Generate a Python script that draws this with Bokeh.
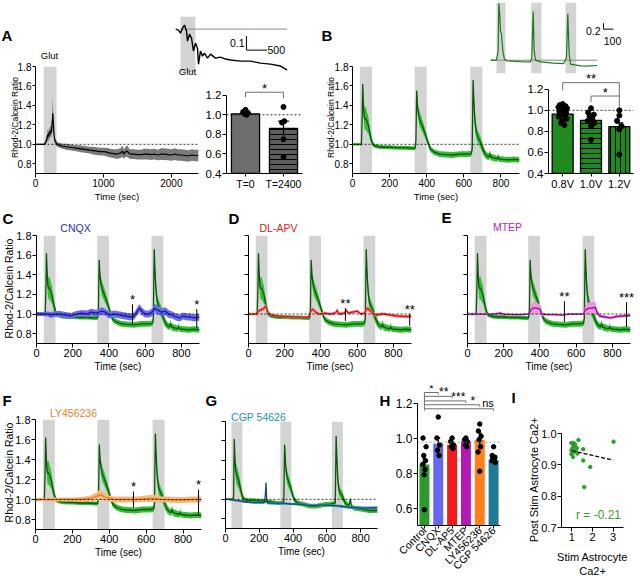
import math
from bokeh.plotting import figure
from bokeh.models import (Range1d, FactorRange, FixedTicker, PrintfTickFormatter,
                          Label, Span, BoxAnnotation)
from bokeh.layouts import column
from bokeh.embed import file_html
from bokeh.resources import INLINE

FONT = "Liberation Sans"
GRAY = "#d3d3d3"

# ======================= DATA =======================
# ---- Panel A: glutamate response (s) ----
a_time = [0, 50, 100, 130, 150, 170, 180, 190, 200, 210,
          220, 230, 240, 250, 255, 260, 265, 270, 280, 290,
          300, 320, 350, 400, 450, 500, 550, 600, 650, 700,
          750, 800, 850, 900, 950, 1000, 1050, 1100, 1150, 1200,
          1250, 1280, 1300, 1320, 1350, 1380, 1400, 1450, 1500, 1550,
          1600, 1650, 1700, 1750, 1800, 1850, 1900, 1950, 2000, 2050,
          2100, 2150, 2200, 2250, 2300, 2350, 2400]
a_mean = [1.0, 1.0, 1.0, 1.0, 1.02, 1.06, 1.1, 1.08, 1.12, 1.1,
          1.14, 1.12, 1.18, 1.25, 1.32, 1.25, 1.22, 1.12, 1.06, 1.03,
          1.02, 1.0, 0.99, 0.98, 0.975, 0.97, 0.965, 0.96, 0.955, 0.95,
          0.945, 0.94, 0.935, 0.93, 0.925, 0.925, 0.92, 0.91, 0.905, 0.9,
          0.91, 0.93, 0.9, 0.92, 0.93, 0.905, 0.9, 0.9, 0.895, 0.895,
          0.9, 0.9, 0.895, 0.9, 0.89, 0.9, 0.9, 0.895, 0.89, 0.9,
          0.89, 0.89, 0.885, 0.88, 0.89, 0.885, 0.885]
a_sem = [0.005, 0.005, 0.005, 0.01, 0.02, 0.04, 0.06, 0.05, 0.06, 0.05,
         0.06, 0.05, 0.08, 0.12, 0.18, 0.1, 0.08, 0.06, 0.04, 0.03,
         0.03, 0.025, 0.025, 0.025, 0.03, 0.03, 0.03, 0.03, 0.035, 0.035,
         0.035, 0.035, 0.04, 0.04, 0.04, 0.04, 0.045, 0.045, 0.045, 0.05,
         0.05, 0.06, 0.05, 0.05, 0.06, 0.05, 0.05, 0.05, 0.05, 0.05,
         0.055, 0.055, 0.055, 0.055, 0.055, 0.06, 0.06, 0.06, 0.06, 0.06,
         0.06, 0.06, 0.06, 0.06, 0.06, 0.06, 0.06]
a_stim_start = [120]
a_stim_end = [310]
a_xticks = [0, 1000, 2000]

# ---- Panel A inset: single cell ----
ai_time = [0, 72, 120, 169, 217, 265, 289, 337, 386, 434,
           482, 530, 554, 602, 651, 699, 771, 843, 964, 1084,
           1205, 1325, 1566, 1807, 1928, 2048, 2289, 2530, 2699]
ai_ratio = [1.0, 0.993, 0.971, 1.007, 1.029, 0.986, 0.914, 0.964, 0.936, 0.843,
            0.9, 0.864, 0.75, 0.843, 0.807, 0.829, 0.793, 0.821, 0.793, 0.8,
            0.786, 0.779, 0.771, 0.771, 0.764, 0.757, 0.75, 0.736, 0.707]
ai_stim_start = [120]
ai_stim_end = [480]
ai_base_t = [120, 2700]
ai_base_v = [1.0, 1.0]
ai_scale_t = [1710, 1710, 2210]
ai_scale_v = [0.95, 0.85, 0.85]

# ---- Control trace (B, C, D, E, F) ----
ctrl_t = [0, 20, 40, 48, 52, 55, 58, 62, 66, 70,
          75, 80, 85, 90, 95, 100, 105, 110, 120, 140,
          170, 200, 240, 280, 320, 338, 342, 346, 350, 355,
          360, 370, 380, 390, 400, 410, 420, 440, 470, 500,
          540, 580, 620, 640, 645, 650, 654, 658, 662, 668,
          675, 682, 690, 697, 705, 715, 725, 735, 740, 745,
          760, 780, 785, 790, 810, 840, 870, 900]
ctrl_mean = [1.00, 1.00, 1.00, 1.00, 1.25, 1.62, 1.45, 1.30, 1.26, 1.27,
             1.25, 1.22, 1.20, 1.15, 1.10, 1.06, 1.03, 1.00, 0.985, 0.975,
             0.97, 0.97, 0.965, 0.965, 0.96, 0.96, 1.05, 1.55, 1.40, 1.32,
             1.27, 1.22, 1.17, 1.12, 1.06, 1.00, 0.95, 0.92, 0.90, 0.895,
             0.89, 0.90, 0.90, 0.905, 0.95, 1.66, 1.45, 1.30, 1.20, 1.12,
             1.08, 1.05, 1.02, 0.98, 0.94, 0.90, 0.88, 0.87, 0.90, 0.87,
             0.86, 0.85, 0.87, 0.85, 0.845, 0.84, 0.845, 0.84]
ctrl_sem = [0.012, 0.012, 0.012, 0.015, 0.03, 0.03, 0.07, 0.09, 0.11, 0.12,
            0.11, 0.10, 0.09, 0.07, 0.06, 0.05, 0.04, 0.025, 0.02, 0.02,
            0.02, 0.02, 0.02, 0.02, 0.02, 0.02, 0.03, 0.03, 0.06, 0.07,
            0.08, 0.07, 0.06, 0.05, 0.04, 0.035, 0.03, 0.03, 0.03, 0.03,
            0.03, 0.03, 0.03, 0.03, 0.04, 0.03, 0.07, 0.08, 0.08, 0.07,
            0.06, 0.06, 0.06, 0.05, 0.05, 0.04, 0.035, 0.035, 0.04, 0.035,
            0.035, 0.03, 0.035, 0.03, 0.03, 0.03, 0.03, 0.03]
stim_start = [40, 335, 635]
stim_end = [105, 400, 700]
t_xticks = [0, 200, 400, 600, 800]
ratio_yticks = [0.8, 1.0, 1.2, 1.4, 1.6, 1.8]

# ---- Panel B inset: single cell at 3 voltages ----
bi_time = [0, 60, 77, 83, 93, 100, 110, 123, 140, 167,
           300, 400, 413, 427, 437, 450, 500, 633, 733, 760,
           773, 787, 800, 900, 967, 1067]
bi_ratio = [1.0, 1.0, 1.31, 2.92, 2.53, 1.98, 1.87, 1.31, 1.03, 0.977,
            0.953, 0.943, 1.087, 2.643, 1.31, 1.0, 0.943, 0.9, 0.887, 1.087,
            2.567, 1.2, 0.867, 0.81, 0.8, 0.82]
bi_stim_start = [60, 407, 750]
bi_stim_end = [150, 510, 857]
bi_base_t = [0, 1070]
bi_base_v = [1.0, 1.0]
bi_scale_t = [1130, 1130, 1230]
bi_scale_v = [2.25, 2.05, 2.05]

# ---- Panel B bars ----
b_cats = ["0.8V", "1.0V", "1.2V"]
b_mean = [0.965, 0.905, 0.845]
b_sem = [0.02, 0.03, 0.035]
b_dots_08 = [1.06, 1.05, 1.04, 1.03, 1.02, 1.01, 1.00, 0.99, 0.98, 0.97, 0.96, 0.95, 0.94, 0.92, 0.90, 0.88, 0.86]
b_offs_08 = [0.0, -0.1, 0.1, -0.15, 0.15, -0.05, 0.05, -0.12, 0.12, 0.0, -0.08, 0.08, -0.14, 0.14, 0.0, -0.06, 0.06]
b_dots_10 = [1.02, 0.98, 0.96, 0.94, 0.92, 0.90, 0.88, 0.85, 0.72]
b_offs_10 = [0.0, -0.1, 0.1, -0.05, 0.05, -0.12, 0.12, 0.0, 0.0]
b_dots_12 = [1.00, 0.95, 0.90, 0.85, 0.82, 0.58]
b_offs_12 = [0.0, 0.0, -0.08, 0.08, 0.0, 0.0]
b_br1_x = [0.5, 0.5, 2.5, 2.5]
b_br1_y = [1.19, 1.263, 1.263, 1.03]
b_br2_x = [1.5, 1.5, 2.5]
b_br2_y = [1.08, 1.136, 1.136]

# ---- Panel A bars ----
a_cats = ["T=0", "T=2400"]
a_bmean = [1.01, 0.86]
a_bsem = [0.012, 0.075]
a_dots_t0 = [1.05, 1.03, 1.02, 1.01, 1.00]
a_offs_t0 = [0.0, -0.06, 0.06, -0.03, 0.03]
a_dots_t2400 = [1.08, 0.935, 0.92, 0.75, 0.57]
a_offs_t2400 = [0.0, 0.02, -0.04, 0.0, 0.0]
a_br_x = [0.5, 0.5, 1.5, 1.5]
a_br_y = [1.18, 1.23, 1.23, 1.17]
bar_yticks = [0.4, 0.6, 0.8, 1.0, 1.2]

# ---- Drug traces ----
cnqx_t = [0, 30, 60, 80, 100, 130, 160, 190, 220, 250,
          280, 300, 330, 360, 380, 400, 430, 460, 490, 520,
          540, 560, 570, 580, 600, 620, 640, 650, 670, 690,
          710, 730, 750, 770, 790, 810, 830, 850, 870, 900]
cnqx_mean = [1.00, 1.00, 1.00, 0.99, 1.00, 1.00, 0.99, 0.98, 1.00, 1.01,
             1.00, 1.02, 1.01, 1.03, 1.02, 0.99, 1.00, 0.99, 0.98, 0.97,
             0.98, 1.04, 1.06, 1.03, 1.00, 1.00, 1.02, 1.06, 1.04, 1.02,
             1.03, 1.00, 0.99, 0.97, 0.96, 0.98, 0.97, 0.97, 0.96, 0.97]
cnqx_sem = [0.02, 0.02, 0.025, 0.03, 0.03, 0.03, 0.03, 0.03, 0.03, 0.03,
            0.035, 0.035, 0.035, 0.04, 0.035, 0.035, 0.035, 0.035, 0.035, 0.035,
            0.035, 0.04, 0.04, 0.04, 0.035, 0.035, 0.04, 0.045, 0.045, 0.04,
            0.04, 0.04, 0.035, 0.035, 0.035, 0.035, 0.035, 0.035, 0.035, 0.035]

apv_t = [0, 40, 55, 65, 80, 95, 105, 115, 140, 200,
         260, 300, 330, 345, 355, 370, 390, 420, 450, 480,
         490, 500, 530, 540, 550, 600, 620, 640, 655, 670,
         690, 710, 730, 750, 780, 820, 860, 900]
apv_mean = [1.00, 1.00, 1.03, 1.04, 1.05, 1.08, 1.03, 1.00, 0.985, 0.975,
            0.97, 0.97, 0.97, 1.03, 1.05, 1.02, 1.00, 1.01, 1.00, 1.01,
            1.04, 1.00, 1.01, 1.04, 1.01, 1.03, 1.00, 1.01, 1.06, 1.04,
            1.00, 0.99, 1.00, 1.00, 0.99, 0.98, 0.975, 0.975]
apv_sem = [0.01, 0.01, 0.02, 0.02, 0.02, 0.025, 0.02, 0.015, 0.01, 0.01,
           0.01, 0.01, 0.01, 0.02, 0.02, 0.02, 0.015, 0.015, 0.015, 0.015,
           0.02, 0.015, 0.015, 0.02, 0.015, 0.015, 0.015, 0.015, 0.025, 0.025,
           0.02, 0.015, 0.015, 0.015, 0.015, 0.015, 0.015, 0.015]

mtep_t = [0, 50, 100, 150, 180, 200, 250, 300, 340, 350,
          360, 380, 400, 410, 440, 480, 520, 560, 600, 640,
          650, 670, 690, 705, 715, 730, 760, 790, 820, 860,
          900]
mtep_mean = [1.00, 1.00, 1.00, 1.00, 1.01, 1.00, 0.995, 0.995, 1.00, 1.04,
             1.06, 1.06, 1.05, 1.00, 0.995, 0.995, 0.99, 1.00, 1.00, 1.00,
             1.04, 1.06, 1.06, 1.07, 1.02, 0.98, 0.97, 0.96, 0.975, 0.98,
             0.985]
mtep_sem = [0.01, 0.01, 0.01, 0.01, 0.015, 0.01, 0.01, 0.01, 0.01, 0.05,
            0.06, 0.06, 0.05, 0.02, 0.01, 0.01, 0.01, 0.01, 0.01, 0.01,
            0.05, 0.06, 0.06, 0.06, 0.03, 0.02, 0.015, 0.015, 0.015, 0.015,
            0.015]

ly_t = [0, 50, 100, 150, 200, 250, 300, 330, 350, 370,
        400, 430, 470, 500, 540, 580, 620, 650, 680, 720,
        760, 800, 850, 900]
ly_mean = [1.00, 1.00, 1.00, 1.00, 1.00, 1.00, 1.01, 1.03, 1.05, 1.03,
           1.01, 1.00, 1.00, 1.00, 1.00, 1.005, 1.01, 1.01, 1.00, 1.00,
           0.995, 0.995, 1.00, 1.00]
ly_sem = [0.015, 0.015, 0.02, 0.02, 0.02, 0.025, 0.03, 0.04, 0.05, 0.04,
          0.03, 0.03, 0.03, 0.03, 0.03, 0.03, 0.035, 0.035, 0.03, 0.03,
          0.03, 0.03, 0.03, 0.03]

gctl_t = [0, 20, 40, 48, 52, 56, 60, 66, 72, 80,
          90, 100, 110, 130, 160, 200, 240, 280, 320, 345,
          350, 356, 362, 370, 380, 390, 400, 410, 430, 460,
          500, 540, 580, 620, 650, 655, 660, 665, 672, 680,
          690, 700, 710, 730, 740, 745, 760, 800, 850, 900]
gctl_mean = [1.00, 1.00, 1.00, 1.02, 1.62, 1.40, 1.30, 1.25, 1.22, 1.18,
             1.10, 1.03, 1.00, 0.99, 0.99, 0.985, 0.98, 0.97, 0.96, 0.97,
             1.56, 1.35, 1.25, 1.20, 1.15, 1.10, 1.03, 0.99, 0.96, 0.95,
             0.93, 0.93, 0.945, 0.95, 0.96, 1.65, 1.40, 1.20, 1.10, 1.06,
             1.04, 1.00, 0.96, 0.93, 1.00, 0.93, 0.91, 0.90, 0.885, 0.885]
gctl_sem = [0.01, 0.01, 0.01, 0.02, 0.03, 0.07, 0.09, 0.10, 0.09, 0.08,
            0.06, 0.04, 0.025, 0.02, 0.02, 0.02, 0.02, 0.02, 0.02, 0.02,
            0.03, 0.06, 0.07, 0.07, 0.06, 0.05, 0.04, 0.03, 0.025, 0.025,
            0.025, 0.025, 0.025, 0.025, 0.025, 0.03, 0.07, 0.07, 0.06, 0.05,
            0.05, 0.04, 0.035, 0.03, 0.03, 0.025, 0.025, 0.025, 0.025, 0.025]
g_stim_start = [35, 325, 630]
g_stim_end = [100, 390, 695]

cgp_t = [0, 20, 50, 80, 110, 140, 170, 200, 230, 236,
         240, 244, 250, 280, 320, 360, 400, 440, 480, 520,
         560, 600, 640, 680, 720, 760, 800, 850, 900]
cgp_mean = [1.00, 1.00, 0.99, 0.985, 0.975, 0.97, 0.965, 0.965, 0.965, 1.05,
            1.17, 1.00, 0.96, 0.96, 0.96, 0.955, 0.95, 0.95, 0.94, 0.935,
            0.94, 0.94, 0.935, 0.93, 0.92, 0.915, 0.91, 0.91, 0.915]
cgp_sem = [0.005, 0.005, 0.008, 0.01, 0.01, 0.01, 0.01, 0.01, 0.01, 0.02,
           0.02, 0.02, 0.012, 0.012, 0.012, 0.012, 0.012, 0.012, 0.012, 0.012,
           0.012, 0.012, 0.012, 0.015, 0.015, 0.015, 0.015, 0.015, 0.015]

# significance markers (time, lower, upper, label)
c_sig_t = [530, 885]; c_sig_lo = [0.90, 0.86]; c_sig_hi = [1.10, 1.05]; c_sig_txt = ["*", "*"]
d_sig_t = [535, 890]; d_sig_lo = [0.93, 0.88]; d_sig_hi = [1.06, 1.00]; d_sig_txt = ["**", "**"]
e_sig_t = [535, 878]; e_sig_lo = [0.92, 0.87]; e_sig_hi = [1.13, 1.12]; e_sig_txt = ["**", "***"]
f_sig_t = [531, 884]; f_sig_lo = [0.92, 0.85]; f_sig_hi = [1.08, 1.10]; f_sig_txt = ["*", "*"]

# ---- Panel H ----
h_cats = ["Control", "CNQX", "DL-AP5", "MTEP", "LY456236", "CGP 54626"]
h_mean = [0.848, 0.967, 0.962, 0.982, 0.99, 0.873]
h_sem = [0.035, 0.033, 0.015, 0.015, 0.038, 0.012]
h_dots_ctrl = [1.00, 0.95, 0.90, 0.87, 0.85, 0.82, 0.79, 0.59]
h_dots_cnqx = [1.12, 1.00, 0.96, 0.93, 0.90]
h_dots_apv = [1.00, 0.98, 0.96, 0.95, 0.94]
h_dots_mtep = [1.00, 0.99, 0.98, 0.96, 0.95]
h_dots_ly = [1.08, 1.04, 1.01, 0.99, 0.95, 0.92, 0.81]
h_dots_cgp = [0.95, 0.90, 0.89, 0.885, 0.88, 0.87, 0.86]
h_offs_ctrl = [-0.1, 0.12, -0.05, 0.08, -0.12, 0.04, -0.02, 0.0]
h_offs_cnqx = [0.0, -0.1, 0.1, -0.05, 0.06]
h_offs_apv = [0.0, -0.1, 0.1, -0.05, 0.06]
h_offs_mtep = [0.0, -0.1, 0.1, -0.05, 0.06]
h_offs_ly = [0.0, -0.1, 0.1, -0.05, 0.06, -0.12, 0.0]
h_offs_cgp = [0.0, -0.1, 0.1, -0.05, 0.06, -0.12, 0.12]
h_ref = 0.976
h_br_level = [1.26, 1.238, 1.212, 1.19, 1.167]
h_br_end = [1.5, 2.5, 3.5, 4.5, 5.5]
h_br_lab = ["*", "**", "***", "*", "ns"]
h_br_lab_x = [1.0, 1.9, 2.95, 4.0, 5.1]
h_yticks = [0.6, 0.8, 1.0, 1.2]

# ---- Panel I ----
i_stim = [0.98, 1.08, 1.16, 1.05, 1.24, 1.32, 0.98, 1.11, 0.98, 1.06,
          1.55, 1.55, 1.89, 1.60, 3.02, 1.19, 1.27, 1.02, 1.12]
i_post = [0.970, 0.970, 0.965, 0.957, 0.954, 0.979, 0.946, 0.941, 0.934, 0.925,
          0.950, 0.914, 0.893, 0.829, 0.974, 0.946, 0.936, 0.950, 0.960]
i_fit_x = [1.0, 3.0]
i_fit_y = [0.945, 0.915]
i_xticks = [1, 2, 3]
i_yticks = [0.7, 0.8, 0.9, 1.0]

# ======================= HELPERS =======================
FIGS = []
INFO = {}
OVERLAY = []


def make(canvas, frame, xr, yr, xspan, yspan, axes=True):
    L, T, R, B = canvas
    fx0, fy0, fx1, fy1 = frame
    opts = dict(width=R - L, height=B - T, x_range=xr, y_range=yr, title=None,
                output_backend="svg", toolbar_location=None,
                min_border_left=fx0 - L, min_border_top=fy0 - T,
                min_border_right=R - fx1, min_border_bottom=B - fy1)
    if not axes:
        opts["x_axis_type"] = None
        opts["y_axis_type"] = None
    p = figure(**opts)
    if "frame_align" in p.properties():
        p.frame_align = False
    p.outline_line_color = None
    p.background_fill_alpha = 0
    p.border_fill_alpha = 0
    p.xgrid.visible = False
    p.ygrid.visible = False
    FIGS.append((p, L, T, R - L, B - T))
    INFO[p.id] = (frame, xspan, yspan)
    return p


def axes_style(p, tsize, xticks=None, yticks=None, xlabel=None, xlsize=9.5,
               ybounds=None, ylabels=True, xfmt="%d", yfmt="%.1f", xtsize=None, ytick_out=4):
    xa = p.xaxis[0]
    ya = p.yaxis[0]
    for ax in (xa, ya):
        ax.axis_line_color = "black"
        ax.axis_line_width = 1
        ax.major_tick_line_color = "black"
        ax.major_tick_line_width = 1
        ax.major_tick_in = 0
        ax.major_tick_out = 4
        ax.minor_tick_line_color = None
        ax.major_label_text_font = FONT
        ax.major_label_text_font_size = f"{tsize}px"
        ax.major_label_text_color = "black"
        ax.major_label_standoff = 1
    ya.major_tick_out = ytick_out
    if xtsize is not None:
        xa.major_label_text_font_size = f"{xtsize}px"
    if xticks is not None:
        xa.ticker = FixedTicker(ticks=xticks)
        xa.formatter = PrintfTickFormatter(format=xfmt)
    if yticks is not None:
        ya.ticker = FixedTicker(ticks=yticks)
        ya.formatter = PrintfTickFormatter(format=yfmt)
    if ybounds is not None:
        ya.bounds = ybounds
    if not ylabels:
        ya.major_label_text_color = None
    if xlabel:
        xa.axis_label = xlabel
        xa.axis_label_text_font = FONT
        xa.axis_label_text_font_size = f"{xlsize}px"
        xa.axis_label_text_font_style = "normal"
        xa.axis_label_text_color = "black"
        xa.axis_label_standoff = 1


def otext(px, py, text, size, color="black", bold=False, align="center",
          angle=0.0, baseline="middle"):
    OVERLAY.append((px, py, text, size, color, bold, align, angle, baseline))


def to_px(p, x, y):
    (fx0, fy0, fx1, fy1), (x0, x1), (y0, y1) = INFO[p.id]
    return (fx0 + (x - x0) / (x1 - x0) * (fx1 - fx0),
            fy0 + (y1 - y) / (y1 - y0) * (fy1 - fy0))


def dtext(p, x, y, text, size, color="black", baseline="middle", yoff=0):
    p.add_layout(Label(x=x, y=y, y_offset=yoff, text=text, text_font=FONT,
                       text_font_size=f"{size}px", text_color=color,
                       text_align="center", text_baseline=baseline))


def trace(p, t, m, s, band, line, lw=1.3):
    lo = [a - b for a, b in zip(m, s)]
    hi = [a + b for a, b in zip(m, s)]
    p.varea(x=t, y1=lo, y2=hi, fill_color=band)
    p.line(x=t, y=m, line_color=line, line_width=lw)


def stims(p, starts, ends):
    for a, b in zip(starts, ends):
        p.add_layout(BoxAnnotation(left=a, right=b, fill_color=GRAY, fill_alpha=1,
                                   line_color=None, level="underlay"))


def baseline(p, loc=1.0, color="black"):
    p.add_layout(Span(location=loc, dimension="width", line_color=color,
                      line_dash="2 2", line_width=0.8))


def sig(p, ts, los, his, labs):
    p.segment(x0=ts, y0=los, x1=ts, y1=his, line_color="black", line_width=1)
    for t, h, lab in zip(ts, his, labs):
        px, py = to_px(p, t, h)
        otext(px, py - 5, lab, 13)


def bars(p, cats, means, sems, fills, dots, offs, bottom, hatches=None,
         outline="black", width=0.74, dot_size=5):
    kw = {}
    if hatches is not None:
        kw = dict(hatch_pattern=hatches, hatch_color="black", hatch_weight=1, hatch_scale=5)
    p.vbar(x=cats, top=means, bottom=bottom, width=width, fill_color=fills,
           line_color=outline, line_width=1.3, **kw)
    xs = [i + 0.5 for i in range(len(cats))]
    lo = [m - s for m, s in zip(means, sems)]
    hi = [m + s for m, s in zip(means, sems)]
    p.segment(x0=xs, y0=lo, x1=xs, y1=hi, line_color="black", line_width=1.3)
    p.segment(x0=[x - 0.14 for x in xs], y0=hi, x1=[x + 0.14 for x in xs], y1=hi,
              line_color="black", line_width=1.3)
    dx, dy = [], []
    for i, (vals, of) in enumerate(zip(dots, offs)):
        for v, o in zip(vals, of):
            dx.append(i + 0.5 + o)
            dy.append(v)
    p.scatter(x=dx, y=dy, size=dot_size, color="black")


GREEN_BAND, GREEN_LINE = "#34bf34", "#0b560b"
YLAB = "Rhod-2/Calcein Ratio"

# ======================= PANEL A =======================
pA = make((0, 28, 200, 207), (35, 66, 198, 173), Range1d(0, 2400), Range1d(0.7, 1.8),
          (0, 2400), (0.7, 1.8))
axes_style(pA, 10, xticks=a_xticks, yticks=ratio_yticks, xlabel="Time (sec)", xlsize=9.5, ytick_out=3)
stims(pA, a_stim_start, a_stim_end)
trace(pA, a_time, a_mean, a_sem, "#7a7a7a", "black", 1.2)
baseline(pA)
otext(1, 35, "A", 15, bold=True, align="left")
otext(49, 55, "Glut", 9.5)
otext(14, 117, YLAB, 8.5, angle=math.pi / 2)

pAi = make((170, 10, 292, 80), (175, 16, 287, 72), Range1d(0, 2700), Range1d(0.69, 1.09),
           (0, 2700), (0.69, 1.09), axes=False)
stims(pAi, ai_stim_start, ai_stim_end)
pAi.line(x=ai_base_t, y=ai_base_v, line_color="#8a8a8a", line_width=1)
pAi.line(x=ai_time, y=ai_ratio, line_color="black", line_width=1.4)
pAi.line(x=ai_scale_t, y=ai_scale_v, line_color="black", line_width=1)
otext(244, 42, "0.1", 10.5, align="right")
otext(267, 49, "500", 10.5, align="left")
otext(187, 71, "Glut", 9.5)

pAb = make((200, 76, 312, 197), (226, 80, 302, 173), FactorRange(*a_cats), Range1d(0.4, 1.35),
           (0, 2), (0.4, 1.35))
axes_style(pAb, 11.5, yticks=bar_yticks, ybounds=(0.4, 1.2), xtsize=10.5)
pAb.xaxis[0].major_tick_out = 3
bars(pAb, a_cats, a_bmean, a_bsem, ["#6e6e6e", "#5e5e5e"], [a_dots_t0, a_dots_t2400],
     [a_offs_t0, a_offs_t2400], 0.4, hatches=["blank", "horizontal_line"])
baseline(pAb)
pAb.line(x=a_br_x, y=a_br_y, line_color="#707070", line_width=1)
dtext(pAb, 1.0, 1.23, "*", 13, yoff=4)

# ======================= PANEL B =======================
pB = make((318, 28, 522, 207), (352, 66, 519, 173), Range1d(0, 900), Range1d(0.7, 1.8),
          (0, 900), (0.7, 1.8))
axes_style(pB, 10, xticks=t_xticks, yticks=ratio_yticks, xlabel="Time (sec)", xlsize=9.5, ytick_out=3)
stims(pB, stim_start, stim_end)
trace(pB, ctrl_t, ctrl_mean, ctrl_sem, GREEN_BAND, GREEN_LINE)
baseline(pB)
otext(321, 35, "B", 15, bold=True, align="left")
otext(330, 117, YLAB, 8.5, angle=math.pi / 2)

pBi = make((486, 2, 626, 76), (490, 2, 615, 73), Range1d(0, 1250), Range1d(0.55, 2.95),
           (0, 1250), (0.55, 2.95), axes=False)
stims(pBi, bi_stim_start, bi_stim_end)
pBi.line(x=bi_base_t, y=bi_base_v, line_color="#8a8a8a", line_width=1)
pBi.line(x=bi_time, y=bi_ratio, line_color="#1c7a1c", line_width=1.2)
pBi.line(x=bi_scale_t, y=bi_scale_v, line_color="black", line_width=1)
otext(600, 30, "0.2", 10.5, align="right")
otext(612, 40, "100", 10.5)

pBb = make((522, 60, 636, 197), (548, 73, 633, 173), FactorRange(*b_cats), Range1d(0.4, 1.35),
           (0, 3), (0.4, 1.35))
axes_style(pBb, 11.5, yticks=bar_yticks, ybounds=(0.4, 1.2), xtsize=11)
pBb.xaxis[0].major_tick_out = 3
bars(pBb, b_cats, b_mean, b_sem, ["#1f8a1f", "#1f8a1f", "#1f8a1f"],
     [b_dots_08, b_dots_10, b_dots_12], [b_offs_08, b_offs_10, b_offs_12], 0.4,
     hatches=["blank", "horizontal_line", "vertical_line"], dot_size=5)
baseline(pBb)
pBb.line(x=b_br1_x, y=b_br1_y, line_color="#707070", line_width=1)
pBb.line(x=b_br2_x, y=b_br2_y, line_color="#707070", line_width=1)
dtext(pBb, 1.5, 1.263, "**", 13, yoff=4)
dtext(pBb, 2.0, 1.136, "*", 13, yoff=4)


# ======================= PANELS C-G =======================
def drug_panel(canvas, frame, letter, letter_px, title, title_px, tcolor,
               ctl, drug, band, line, starts, ends, sg, ylabels, ylab_px=None):
    p = make(canvas, frame, Range1d(0, 900), Range1d(0.7, 1.8), (0, 900), (0.7, 1.8))
    axes_style(p, 11, xticks=t_xticks, yticks=ratio_yticks, xlabel="Time (sec)",
               xlsize=10, ylabels=ylabels)
    stims(p, starts, ends)
    trace(p, ctl[0], ctl[1], ctl[2], GREEN_BAND, GREEN_LINE)
    trace(p, drug[0], drug[1], drug[2], band, line)
    baseline(p)
    if sg is not None:
        sig(p, *sg)
    otext(letter_px[0], letter_px[1], letter, 15, bold=True, align="left")
    otext(title_px[0], title_px[1], title, 10.5, color=tcolor)
    if ylab_px is not None:
        otext(ylab_px[0], ylab_px[1], YLAB, 10.5, angle=math.pi / 2)
    return p


ctl = (ctrl_t, ctrl_mean, ctrl_sem)
pC = drug_panel((0, 210, 205, 376), (36, 235, 199, 343), "C", (2, 218), "CNQX", (75, 227), "#2b2bcf",
                ctl, (cnqx_t, cnqx_mean, cnqx_sem), "#6b6bf2", "#1a1a9a", stim_start, stim_end,
                (c_sig_t, c_sig_lo, c_sig_hi, c_sig_txt), True, (8, 288))
pD = drug_panel((225, 210, 417, 376), (248, 235, 411, 343), "D", (228, 218), "DL-APV", (278, 227), "#e02020",
                ctl, (apv_t, apv_mean, apv_sem), "#f08a8a", "#e31414", stim_start, stim_end,
                (d_sig_t, d_sig_lo, d_sig_hi, d_sig_txt), False)
pE = drug_panel((438, 210, 634, 376), (467, 235, 630, 343), "E", (441, 217), "MTEP", (507, 226), "#b02ab0",
                ctl, (mtep_t, mtep_mean, mtep_sem), "#f095e2", "#8e108e", stim_start, stim_end,
                (e_sig_t, e_sig_lo, e_sig_hi, e_sig_txt), False)
pF = drug_panel((0, 392, 205, 562), (35, 419, 201, 529), "F", (2, 400), "LY456236", (73, 412), "#ef8030",
                ctl, (ly_t, ly_mean, ly_sem), "#f7b97c", "#e27218", stim_start, stim_end,
                (f_sig_t, f_sig_lo, f_sig_hi, f_sig_txt), True, (8, 472))
pG = drug_panel((205, 392, 383, 562), (225, 421, 377, 528), "G", (205, 400), "CGP 54626", (258, 416), "#2191b5",
                (gctl_t, gctl_mean, gctl_sem), (cgp_t, cgp_mean, cgp_sem), "#3596bd", "#164f6c",
                g_stim_start, g_stim_end, None, False)

# ======================= PANEL H =======================
pH = make((380, 380, 505, 578), (417, 385, 500, 530), FactorRange(*h_cats), Range1d(0.5, 1.3),
          (0, 6), (0.5, 1.3))
axes_style(pH, 12, yticks=h_yticks, ybounds=(0.5, 1.2), xtsize=10.5)
pH.xaxis[0].major_label_orientation = math.pi / 4
pH.xaxis[0].major_tick_out = 3
pH.xaxis[0].major_label_standoff = 0
bars(pH, h_cats, h_mean, h_sem,
     ["#2a9a2a", "#6666f0", "#f41c1c", "#b21ab2", "#ff7f1f", "#1f7a98"],
     [h_dots_ctrl, h_dots_cnqx, h_dots_apv, h_dots_mtep, h_dots_ly, h_dots_cgp],
     [h_offs_ctrl, h_offs_cnqx, h_offs_apv, h_offs_mtep, h_offs_ly, h_offs_cgp],
     0.5, outline=None, width=0.72, dot_size=4.5)
baseline(pH, h_ref, "#888888")
pH.line(x=[0.5, 0.5], y=[h_br_level[-1] - 0.01, h_br_level[0]], line_color="#707070", line_width=1)
for lev, end, lab, lx in zip(h_br_level, h_br_end, h_br_lab, h_br_lab_x):
    pH.line(x=[0.5, end, end], y=[lev, lev, lev - 0.012], line_color="#707070", line_width=1)
    if lab == "ns":
        dtext(pH, lx, lev, lab, 11, baseline="bottom", yoff=0)
    else:
        dtext(pH, lx, lev, lab, 12, yoff=4)
otext(379, 400, "H", 15, bold=True, align="left")

# ======================= PANEL I =======================
pI = make((512, 390, 632, 578), (561, 433, 623, 527), Range1d(0.5, 3.5), Range1d(0.7, 1.0),
          (0.5, 3.5), (0.7, 1.0))
axes_style(pI, 11, xticks=i_xticks, yticks=i_yticks)
pI.scatter(x=i_stim, y=i_post, size=3.5, color="#2f9e2f")
pI.line(x=i_fit_x, y=i_fit_y, line_color="black", line_dash="4 2", line_width=1.3)
otext(598, 514, "r = -0.21", 12, color="#2f9e2f")
otext(533, 479, "Post Stim Astrocyte Ca2+", 11, angle=math.pi / 2)
otext(592, 556, "Stim Astrocyte", 11)
otext(592, 570, "Ca2+", 11)
otext(511, 397, "I", 15, bold=True, align="left")

# ======================= TEXT OVERLAY (picture pixel coordinates) =======================
ov = figure(width=638, height=578, x_range=Range1d(0, 638), y_range=Range1d(578, 0), title=None,
            x_axis_type=None, y_axis_type=None, output_backend="svg", toolbar_location=None,
            min_border_left=0, min_border_right=0, min_border_top=0, min_border_bottom=0)
if "frame_align" in ov.properties():
    ov.frame_align = False
ov.outline_line_color = None
ov.background_fill_alpha = 0
ov.border_fill_alpha = 0
ov.xgrid.visible = False
ov.ygrid.visible = False
for px, py, text, size, color, bold, align, angle, bl in OVERLAY:
    ov.add_layout(Label(x=px, y=py, text=text, text_font=FONT, text_font_size=f"{size}px",
                        text_color=color, text_font_style="bold" if bold else "normal",
                        text_align=align, text_baseline=bl, angle=angle))
FIGS.append((ov, 0, 0, 638, 578))

# ======================= LAYOUT (absolute placement via margins) =======================
children = []
prev_bottom = 0
for p, L, T, W, H in FIGS:
    p.margin = (T - prev_bottom, 0, 0, L)
    children.append(p)
    prev_bottom = T + H

layout = column(*children)
open("out.html", "w").write(file_html(layout, INLINE))
